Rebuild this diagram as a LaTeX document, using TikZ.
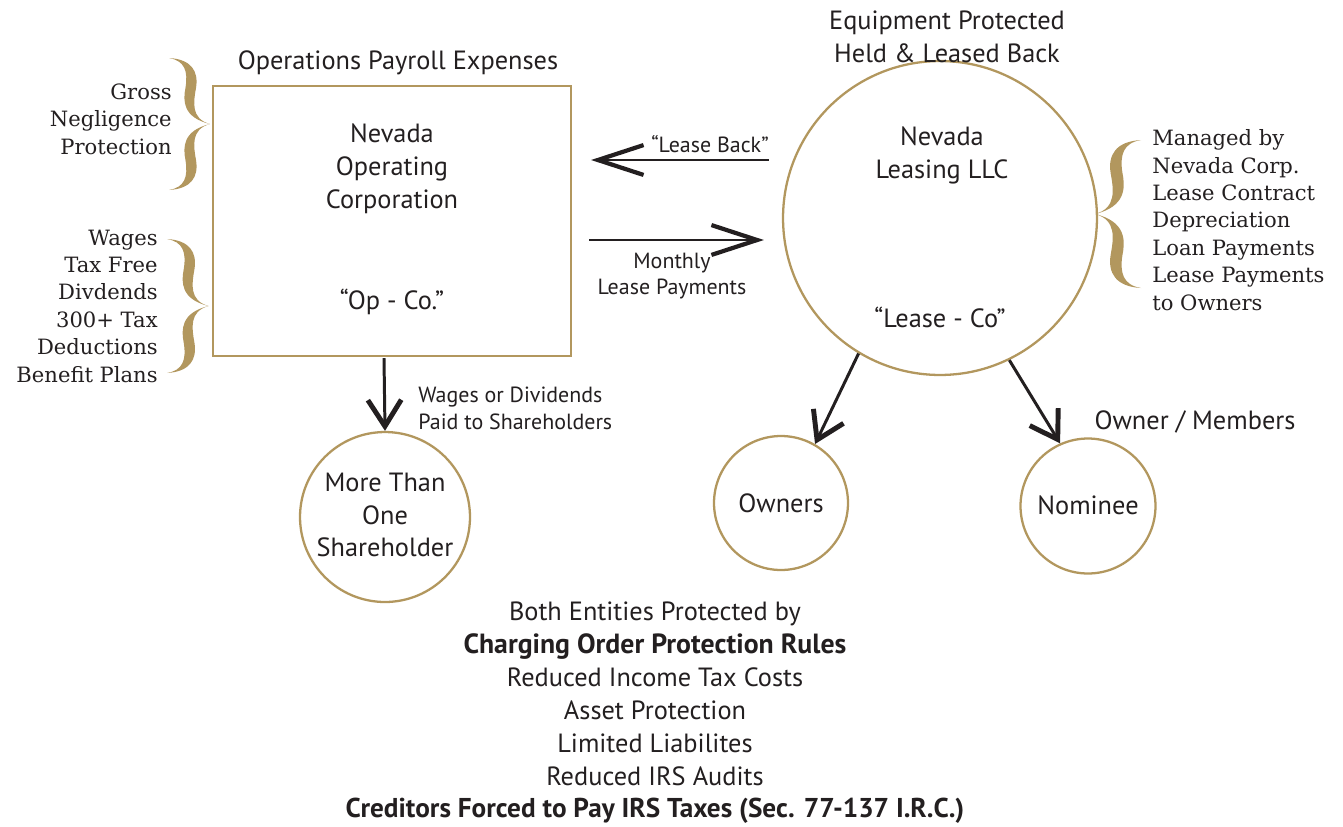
\documentclass[tikz,border=0pt]{standalone}
\usepackage{fontspec}
\setmainfont{PT Sans}
\newfontfamily\bookfont{DejaVu Serif}
\usetikzlibrary{arrows.meta}
\definecolor{gold}{RGB}{178,151,94}
\definecolor{ink}{RGB}{35,31,32}
\begin{document}
\begin{tikzpicture}[x=0.02cm,y=-0.02cm,
    gbrace/.pic={\foreach \s in {1,-1}{\fill[gold,yscale=\s] (0,-1) .. controls (0.34,-0.98) and (0.45,-0.80) .. (0.41,-0.55) .. controls (0.37,-0.33) and (0.33,-0.08) .. (0.62,0) .. controls (0.21,-0.10) and (0.21,-0.35) .. (0.25,-0.55) .. controls (0.29,-0.80) and (0.24,-0.96) .. (0,-1) -- cycle;}}]
        \tikzstyle{every node}=[text=ink,inner sep=0pt,font=\fontsize{15}{18.7}\selectfont]
        \tikzstyle{entity}=[draw=gold,line width=1.3pt]
        \tikzstyle{small}=[font=\fontsize{12.5}{15.2}\selectfont]
        \tikzstyle{note}=[font=\bookfont\fontsize{12}{15.6}\selectfont]
        \tikzstyle{barb}=[draw=ink,line width=1.6pt,-{Straight Barb[length=26pt,width=17pt,line width=2.4pt]}]
        \tikzstyle{dbarb}=[draw=ink,line width=1.7pt,-{Straight Barb[length=15pt,width=19pt,line width=2.8pt]}]
        \useasboundingbox (0,0) rectangle (1343,826);
        \node[entity,minimum width=7.16cm,minimum height=5.4cm] (opco) at (392,221) {};
        \node[entity,circle,minimum size=6.28cm] (leaseco) at (940,218) {};
        \node[entity,circle,minimum size=3.4cm] (holders) at (385,517) {};
        \node[entity,circle,minimum size=2.68cm] (owners) at (781,503) {};
        \node[entity,circle,minimum size=2.7cm] (nominee) at (1088,506) {};
        \node (opstitle) at (398,63) {Operations Payroll Expenses};
        \node[align=center] (eqtitle) at (947,37) {Equipment Protected\\Held \& Leased Back};
        \node[align=center] (opname) at (392,169) {Nevada\\Operating\\Corporation};
        \node (opnick) at (392,302) {“Op - Co.”};
        \node[align=center] (lsname) at (942,155) {Nevada\\Leasing LLC};
        \node (lsnick) at (940,317) {“Lease - Co”};
        \node[align=center] (holdname) at (385,515) {More Than\\One\\Shareholder};
        \node (ownname) at (781,503) {Owners};
        \node (nomname) at (1088,505) {Nominee};
        \node (members) at (1195,422) {Owner / Members};
        \node[small] (lbtext) at (710,144) {“Lease Back”};
        \node[small,align=center] (mltext) at (672,276) {Monthly\\Lease Payments};
        \node[small,align=left,anchor=west] (wgtext) at (418,408) {Wages or Dividends\\Paid to Shareholders};
        \node[note,align=right,anchor=east] (gross) at (172,119) {Gross\\Negligence\\Protection};
        \node[note,align=right,anchor=east] (wages) at (158,306) {Wages\\Tax Free\\Divdends\\300+ Tax\\Deductions\\Benefit Plans};
        \node[note,align=left,anchor=west] (managed) at (1152,220) {Managed by\\Nevada Corp.\\Lease Contract\\Depreciation\\Loan Payments\\Lease Payments\\to Owners};
        \node[align=center] (rules) at (655,713) {Both Entities Protected by\\{\fontsize{15.8}{18.7}\selectfont\bfseries Charging Order Protection Rules}\\Reduced Income Tax Costs\\Asset Protection\\Limited Liabilites\\Reduced IRS Audits\\{\fontsize{15.5}{18.7}\selectfont\bfseries Creditors Forced to Pay IRS Taxes (Sec. 77-137 I.R.C.)}};
        \pic[scale=66] at (169,124) {gbrace};
        \pic[scale=67] at (167,306) {gbrace};
        \pic[xscale=-74,yscale=74] at (1141,214) {gbrace};
        \draw[barb] ([shift={(-13,-58)}]leaseco.west) -- ([shift={(19,-61)}]opco.east);
        \draw[barb] ([shift={(17,19)}]opco.east) -- ([shift={(-18,22)}]leaseco.west);
        \draw[dbarb] ([shift={(-8,1)}]opco.south) -- (holders.north);
        \draw[dbarb] (leaseco.239) -- (owners.60);
        \draw[dbarb] (leaseco.296) -- (nominee.114);
    \end{tikzpicture}
\end{document}
